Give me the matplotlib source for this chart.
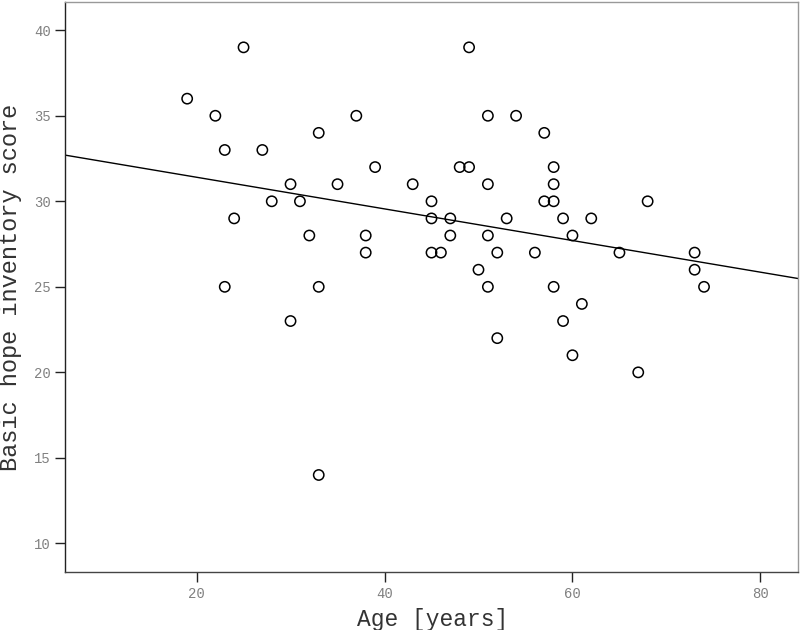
import numpy as np
import matplotlib
matplotlib.use("Agg")
import matplotlib.pyplot as plt

# age [years] and basic hope inventory score
age = [19, 22, 23, 25, 24, 23, 27, 28, 30, 31, 32, 33, 33, 30, 33, 35, 37, 39, 38, 38,
       43, 45, 45, 47, 47, 45, 46, 48, 49, 49, 51, 54, 57, 58, 58, 57, 58, 51, 53, 51,
       50, 52, 56, 51, 59, 62, 60, 58, 61, 59, 65, 68, 73, 73, 74, 52, 60, 67]
score = [36, 35, 33, 39, 29, 25, 33, 30, 31, 30, 28, 34, 25, 23, 14, 31, 35, 32, 28, 27,
         31, 30, 29, 29, 28, 27, 27, 32, 32, 39, 35, 35, 34, 32, 31, 30, 30, 31, 29, 28,
         26, 27, 27, 25, 29, 29, 28, 25, 24, 23, 27, 30, 27, 26, 25, 22, 21, 20]

xticks = [20, 40, 60, 80]
yticks = [10, 15, 20, 25, 30, 35, 40]

plt.rcParams['font.family'] = ['Liberation Mono', 'DejaVu Sans Mono']

fig = plt.figure(figsize=(8, 6.3), dpi=100)
ax = fig.add_axes([0.08125, 0.0921, 0.91625, 0.9047])

ax.scatter(age, score, s=55, facecolors='none', edgecolors='black', linewidths=1.1, zorder=3)

# least squares line over the whole x range
xlim = (6, 84)
slope, icept = np.polyfit(age, score, 1)
xs = np.array(xlim)
ax.plot(xs, icept + slope * xs, color='black', lw=1.0, zorder=2)

ax.set_xlim(*xlim)
ax.set_ylim(8.33, 41.65)
ax.set_xticks(xticks)
ax.set_yticks(yticks)
ax.tick_params(direction='out', length=7, width=1.0, color='#222222',
               labelsize=10, labelcolor='#808080')
ax.tick_params(axis='x', pad=4)
ax.tick_params(axis='y', pad=3)

ax.spines['left'].set_color('#222222')
ax.spines['bottom'].set_color('#444444')
ax.spines['top'].set_color('#999999')
ax.spines['right'].set_color('#999999')
for s in ax.spines.values():
    s.set_linewidth(1.0)

ax.set_xlabel("Age [years]", fontsize=16.5, color='#333333')
ax.set_ylabel("Basic hope inventory score", fontsize=17, color='#333333')
ax.xaxis.set_label_coords(0.501, -0.064)
ax.yaxis.set_label_coords(-0.059, 0.499)

fig.savefig("out.png", dpi=100)
